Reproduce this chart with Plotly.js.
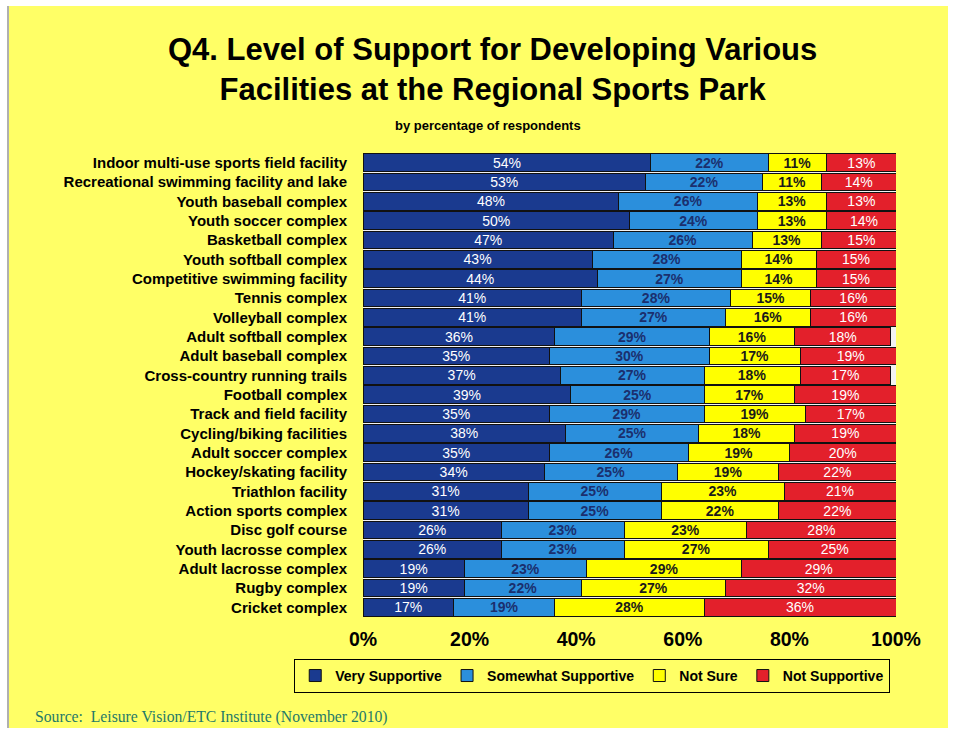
<!DOCTYPE html>
<html><head><meta charset="utf-8">
<script src="https://cdn.plot.ly/plotly-3.0.1.min.js"></script>
<style>
html,body{margin:0;padding:0;background:#ffffff;width:953px;height:738px;overflow:hidden;}
#frame{position:absolute;left:7px;top:6px;width:939px;height:722px;border-left:2px solid #b0b0b0;}
#chart{position:absolute;left:0;top:0;width:939px;height:722px;}
</style></head>
<body><div id="frame"><div id="chart"></div></div>
<script>
const categories = [
 "Indoor multi-use sports field facility","Recreational swimming facility and lake","Youth baseball complex",
 "Youth soccer complex","Basketball complex","Youth softball complex","Competitive swimming facility",
 "Tennis complex","Volleyball complex","Adult softball complex","Adult baseball complex",
 "Cross-country running trails","Football complex","Track and field facility","Cycling/biking facilities",
 "Adult soccer complex","Hockey/skating facility","Triathlon facility","Action sports complex",
 "Disc golf course","Youth lacrosse complex","Adult lacrosse complex","Rugby complex","Cricket complex"];
const verySupportive     = [54,53,48,50,47,43,44,41,41,36,35,37,39,35,38,35,34,31,31,26,26,19,19,17];
const somewhatSupportive = [22,22,26,24,26,28,27,28,27,29,30,27,25,29,25,26,25,25,25,23,23,23,22,19];
const notSure            = [11,11,13,13,13,14,14,15,16,16,17,18,17,19,18,19,19,23,22,23,27,29,27,28];
const notSupportive      = [13,14,13,14,15,15,15,16,16,18,19,17,19,17,19,20,22,21,22,28,25,29,32,36];
const seriesNames = ["Very Supportive","Somewhat Supportive","Not Sure","Not Supportive"];
const xTicks = [0,20,40,60,80,100];

const fills = ["#1a3a8f","#2b8fdc","#ffff00","#e3202b"];
const textCols = ["#ffffff","#1b2f6e","#1a1a1a","#ffffff"];
const series = [verySupportive, somewhatSupportive, notSure, notSupportive];

const traces = series.map((vals,i)=>({
  type:'bar', orientation:'h', name:seriesNames[i],
  y:categories, x:vals,
  marker:{color:fills[i], line:{color:'#111111', width:1}},
  text:vals.map(v=>v+'%'), textposition:'inside', insidetextanchor:'middle',
  textangle:0, constraintext:'none',
  textfont:{family:'Arial, Liberation Sans, sans-serif', size:14, color:textCols[i], weight: i===0||i===3 ? 'normal':'bold'},
  hoverinfo:'skip', cliponaxis:true
}));

const layout = {
  width:939, height:722,
  paper_bgcolor:'#ffff66', plot_bgcolor:'#f2f2f2',
  barmode:'stack', bargap:0.1,
  margin:{l:354, r:52, t:147, b:111},
  font:{family:'Arial, Liberation Sans, sans-serif', color:'#000000'},
  title:{text:'<b>Q4. Level of Support for Developing Various<br>Facilities at the Regional Sports Park</b>',
         font:{size:31, color:'#000000'}, x:0.515, xanchor:'center', y:0.925, yanchor:'top'},
  annotations:[
    {text:'<b>by percentage of respondents</b>', xref:'paper', yref:'paper', x:0.235, y:1.06, xanchor:'center', yanchor:'middle', showarrow:false, font:{size:13}},
    {text:'Source:  Leisure Vision/ETC Institute (November 2010)', xref:'paper', yref:'paper', x:-0.62, xanchor:'left', y:-0.215, yanchor:'middle', showarrow:false, font:{family:'Liberation Serif, Times New Roman, serif', size:15.7, color:'#1f7a68'}}
  ],
  xaxis:{range:[0,100], tickvals:xTicks, ticktext:xTicks.map(v=>v+'%'), showgrid:false, zeroline:false, showline:false,
         tickfont:{size:19.5, weight:'bold'}, ticks:'outside', ticklen:5, tickcolor:'rgba(0,0,0,0)', fixedrange:true},
  yaxis:{autorange:'reversed', showgrid:false, zeroline:false, showline:false, ticks:'outside', ticklen:12, tickcolor:'rgba(0,0,0,0)',
         tickfont:{size:15, weight:'bold'}},
  legend:{orientation:'h', xref:'paper', yref:'paper', x:-0.129, xanchor:'left', y:-0.127, yanchor:'middle', bgcolor:'#ffff66', bordercolor:'#000000', borderwidth:1,
          font:{size:14, weight:'bold'}, traceorder:'normal', itemwidth:30, tracegroupgap:0}
};
Plotly.newPlot('chart', traces, layout, {displayModeBar:false, staticPlot:true});
</script>
</body></html>
